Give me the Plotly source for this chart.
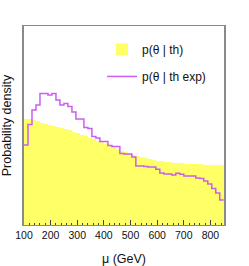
import numpy as np
import plotly.graph_objects as go

# Binning: 50 bins of 15 GeV from 100 to 850 GeV
bin_lo = 100.0
bin_width = 15.0
n_bins = 50

# p(theta | th)  (yellow filled histogram), arbitrary density units
p_th = [1.06, 1.06, 1.05, 1.04, 1.025, 1.015, 1.005, 0.995, 0.985, 0.975,
        0.96, 0.95, 0.935, 0.92, 0.905, 0.89, 0.875, 0.86, 0.845, 0.83,
        0.815, 0.80, 0.78, 0.76, 0.745, 0.73, 0.715, 0.70, 0.69, 0.68,
        0.67, 0.66, 0.655, 0.645, 0.64, 0.635, 0.63, 0.625, 0.62, 0.62,
        0.615, 0.615, 0.61, 0.61, 0.61, 0.605, 0.605, 0.60, 0.60, 0.60]

# p(theta | th exp)  (magenta outline histogram)
p_th_exp = [0.80, 1.005, 1.15, 1.20, 1.315, 1.315, 1.30, 1.315, 1.25, 1.20,
            1.215, 1.185, 1.13, 1.06, 1.06, 0.975, 0.965, 0.885, 0.87, 0.835,
            0.835, 0.795, 0.785, 0.785, 0.715, 0.71, 0.71, 0.68, 0.59, 0.59,
            0.585, 0.58, 0.58, 0.557, 0.52, 0.51, 0.51, 0.50, 0.517, 0.507,
            0.49, 0.49, 0.49, 0.47, 0.465, 0.44, 0.41, 0.365, 0.32, 0.25]

x_ticks = [100, 200, 300, 400, 500, 600, 700, 800]

edges = bin_lo + bin_width * np.arange(n_bins + 1)
centers = 0.5 * (edges[:-1] + edges[1:])

FONT = "Liberation Sans, Arial, sans-serif"
YELLOW = "#ffff66"
MAGENTA = "#cc5cf2"
FRAME = "#8a8a8a"

fig = go.Figure()
fig.add_trace(go.Bar(
    x=centers, y=p_th, width=bin_width,
    marker=dict(color=YELLOW, line=dict(width=0)),
    name="p(θ | th)", legendgroup="a",
))
fig.add_trace(go.Scatter(
    x=edges, y=list(p_th_exp) + [p_th_exp[-1]],
    mode="lines", line=dict(color=MAGENTA, width=1.5, shape="hv"),
    name="p(θ | th exp)", legendgroup="b",
))

fig.update_layout(
    width=249, height=266,
    margin=dict(l=24, r=25, t=26, b=41, autoexpand=False),
    paper_bgcolor="white", plot_bgcolor="white",
    bargap=0,
    font=dict(family=FONT, color="#111111"),
    showlegend=True,
    legend=dict(
        x=0.39, y=0.955, xanchor="left", yanchor="top",
        bgcolor="rgba(0,0,0,0)", borderwidth=0,
        font=dict(size=12, family=FONT, color="#111111"),
        traceorder="grouped", tracegroupgap=8,
    ),
    xaxis=dict(
        range=[100, 851], automargin=False,
        tickmode="array", tickvals=x_ticks,
        ticks="inside", ticklen=5, tickwidth=1, tickcolor="#444444",
        minor=dict(ticks="inside", ticklen=2.5, dtick=20, tickcolor="#444444", showgrid=False),
        showline=True, linecolor=FRAME, linewidth=1, mirror=True,
        showgrid=False, zeroline=False,
        tickfont=dict(size=10.5, family=FONT, color="#111111"),
        title=dict(text="μ (GeV)", font=dict(size=12.5, family=FONT, color="#111111")),
    ),
    yaxis=dict(
        range=[0, 1.99], automargin=False,
        showticklabels=False, ticks="",
        showline=True, linecolor=FRAME, linewidth=1.5, mirror=True,
        showgrid=False, zeroline=False,
        title=dict(text="Probability density", font=dict(size=12.5, family=FONT, color="#111111")),
    ),
)

fig.write_html("out.html", config={"displayModeBar": False},
               post_script="document.body.style.margin='0px';")
